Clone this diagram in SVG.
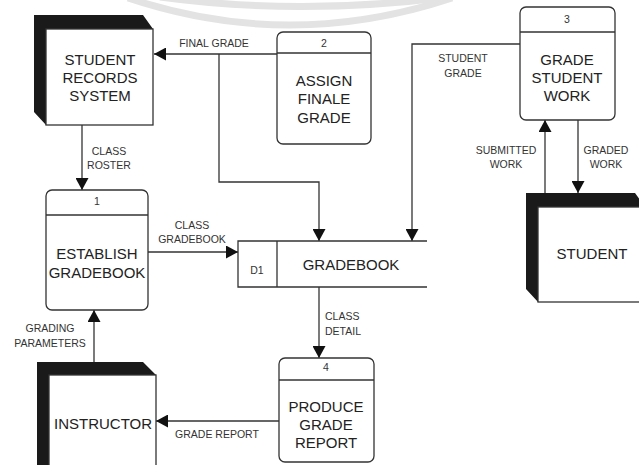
<svg xmlns="http://www.w3.org/2000/svg" width="639" height="465" viewBox="0 0 639 465">
<defs>
<style>
.box{fill:#fff;stroke:#333;stroke-width:1.3}
.ln{fill:none;stroke:#333;stroke-width:1.3}
.sh{fill:#1a1a1a}
.big{font-family:"Liberation Sans",Arial,sans-serif;font-size:15px;fill:#222;text-anchor:middle}
.sm{font-family:"Liberation Sans",Arial,sans-serif;font-size:10.5px;fill:#333;text-anchor:middle}
.wm{fill:none;stroke:#e3e3e3;stroke-width:7}
</style>
<marker id="ah" markerUnits="userSpaceOnUse" markerWidth="13" markerHeight="13" refX="12" refY="6.5" orient="auto">
<path d="M0,0 L12,6.5 L0,13 z" fill="#111"/>
</marker>
</defs>
<rect width="639" height="465" fill="#fff"/>
<g id="watermark">
<path class="wm" d="M128,-2 Q290,52 452,-2"/>
<path class="wm" d="M160,-3 Q300,16 448,-3"/>
</g>
<g id="connectors">
<path class="ln" d="M277,54 H154" marker-end="url(#ah)"/>
<path class="ln" d="M219,54 V182 H319 V241" marker-end="url(#ah)"/>
<path class="ln" d="M520,44 H412 V241" marker-end="url(#ah)"/>
<path class="ln" d="M82,125 V190" marker-end="url(#ah)"/>
<path class="ln" d="M148,252 H238" marker-end="url(#ah)"/>
<path class="ln" d="M319,287 V358" marker-end="url(#ah)"/>
<path class="ln" d="M279,421 H156" marker-end="url(#ah)"/>
<path class="ln" d="M94,362 V310" marker-end="url(#ah)"/>
<path class="ln" d="M545,193 V120" marker-end="url(#ah)"/>
<path class="ln" d="M578,120 V193" marker-end="url(#ah)"/>
<text class="sm" x="214" y="47">FINAL GRADE</text>
<text class="sm" x="463" y="62">STUDENT</text>
<text class="sm" x="463" y="77">GRADE</text>
<text class="sm" x="109" y="155">CLASS</text>
<text class="sm" x="109" y="169">ROSTER</text>
<text class="sm" x="192" y="229">CLASS</text>
<text class="sm" x="192" y="243">GRADEBOOK</text>
<text class="sm" x="325" y="320" style="text-anchor:start">CLASS</text>
<text class="sm" x="325" y="335" style="text-anchor:start">DETAIL</text>
<text class="sm" x="217" y="438">GRADE REPORT</text>
<text class="sm" x="50" y="332">GRADING</text>
<text class="sm" x="50" y="347">PARAMETERS</text>
<text class="sm" x="506" y="154">SUBMITTED</text>
<text class="sm" x="506" y="168">WORK</text>
<text class="sm" x="606" y="154">GRADED</text>
<text class="sm" x="606" y="168">WORK</text>
</g>
<g id="student-records-system">
<polygon class="sh" points="34,15 143,15 153,29 46,29 46,125 34,112"/>
<rect class="box" x="46" y="29" width="107" height="96"/>
<text class="big" x="100" y="65">STUDENT</text>
<text class="big" x="100" y="83">RECORDS</text>
<text class="big" x="100" y="101">SYSTEM</text>
</g>
<g id="process-2">
<rect class="box" x="277" y="32" width="94" height="112" rx="6"/>
<path class="ln" d="M277,53 H371"/>
<text class="sm" x="324" y="47">2</text>
<text class="big" x="324" y="86">ASSIGN</text>
<text class="big" x="324" y="104">FINALE</text>
<text class="big" x="324" y="123">GRADE</text>
</g>
<g id="process-3">
<rect class="box" x="520" y="7" width="95" height="113" rx="6"/>
<path class="ln" d="M520,32 H615"/>
<text class="sm" x="567" y="23">3</text>
<text class="big" x="567" y="65">GRADE</text>
<text class="big" x="567" y="83">STUDENT</text>
<text class="big" x="567" y="101">WORK</text>
</g>
<g id="process-1">
<rect class="box" x="46" y="190" width="102" height="120" rx="6"/>
<path class="ln" d="M46,215 H148"/>
<text class="sm" x="97" y="205">1</text>
<text class="big" x="97" y="259">ESTABLISH</text>
<text class="big" x="97" y="278">GRADEBOOK</text>
</g>
<g id="gradebook">
<path class="ln" d="M427,241 H238 V287 H427 M277,241 V287"/>
<text class="sm" x="257" y="274">D1</text>
<text class="big" x="351" y="270">GRADEBOOK</text>
</g>
<g id="student">
<polygon class="sh" points="526,193 635,193 645,207 538,207 538,302 526,289"/>
<rect class="box" x="538" y="207" width="110" height="95"/>
<text class="big" x="592" y="259">STUDENT</text>
</g>
<g id="process-4">
<rect class="box" x="279" y="358" width="95" height="104" rx="6"/>
<path class="ln" d="M279,380 H374"/>
<text class="sm" x="326" y="371">4</text>
<text class="big" x="326" y="412">PRODUCE</text>
<text class="big" x="326" y="430">GRADE</text>
<text class="big" x="326" y="448">REPORT</text>
</g>
<g id="instructor">
<polygon class="sh" points="37,362 143,362 156,375 49,375 49,470 37,470"/>
<rect class="box" x="49" y="375" width="107" height="100"/>
<text class="big" x="103" y="429">INSTRUCTOR</text>
</g>
</svg>
